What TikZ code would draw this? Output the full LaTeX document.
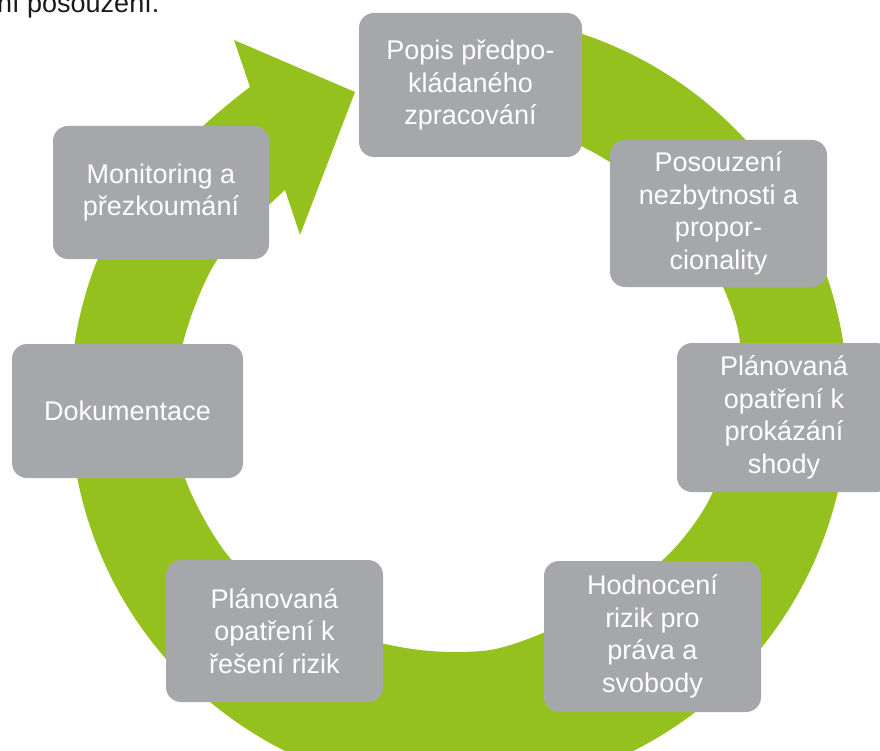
\documentclass[tikz,border=0pt]{standalone}
\usepackage{fontspec}
\setmainfont{Liberation Sans}
\usepackage{tikz}
\definecolor{ringgreen}{RGB}{149,193,31}
\definecolor{boxgray}{RGB}{166,167,170}
\tikzstyle{stage} = [rectangle, rounded corners=15pt, fill=boxgray, text=white, align=center, inner sep=0pt, font=\fontsize{27}{32.5}\selectfont]
\tikzstyle{caption} = [anchor=base west, inner sep=0pt, text=black!90, font=\fontsize{27}{32.5}\selectfont]

\begin{document}
\begin{tikzpicture}[x=1pt, y=-1pt]
    \useasboundingbox (0,0) rectangle (880,751);
    \node(uvod)[caption] at (-3,13) {ní posouzení.};
    %
    % green cycle arrow, clockwise, head pointing at the first step
    \fill[ringgreen] (459,403) ++(-98:389) arc[start angle=-98, end angle=200, radius=389]
        .. controls (117,204) and (194,129) .. (250,87)
        -- (234,40) -- (355,92) -- (300,235) -- (285,190)
        -- plot[smooth] coordinates {(285,190) (217,260) (183,343) (181,410) (185,478) (230,558)
            (300,610) (370,640) (430,651) (490,650) (543,633) (610,600) (670,553) (710,498)
            (735,420) (740,343) (723,287) (690,233) (640,183) (583,147) (520,127) (460,121) (410,125)}
        -- cycle;
    %
    \node(popis)[stage, minimum width=223pt, minimum height=144pt] at (470.5,85) {Popis předpo-\\kládaného\\zpracování};
    \node(posouzeni)[stage, minimum width=217pt, minimum height=147pt] at (718.5,213.5) {Posouzení\\nezbytnosti a\\propor-\\cionality};
    \node(shody)[stage, minimum width=214pt, minimum height=149pt] at (784,417.5) {Plánovaná\\opatření k\\prokázání\\shody};
    \node(hodnoceni)[stage, minimum width=217pt, minimum height=151pt] at (652.5,636.5) {Hodnocení\\rizik pro\\práva a\\svobody};
    \node(reseni)[stage, minimum width=217pt, minimum height=142pt] at (274.5,631) {Plánovaná\\opatření k\\řešení rizik};
    \node(dokumentace)[stage, minimum width=231pt, minimum height=134pt] at (127.5,411) {Dokumentace};
    \node(monitoring)[stage, minimum width=216pt, minimum height=133pt] at (161,192.5) {Monitoring a\\přezkoumání};
\end{tikzpicture}
\end{document}
